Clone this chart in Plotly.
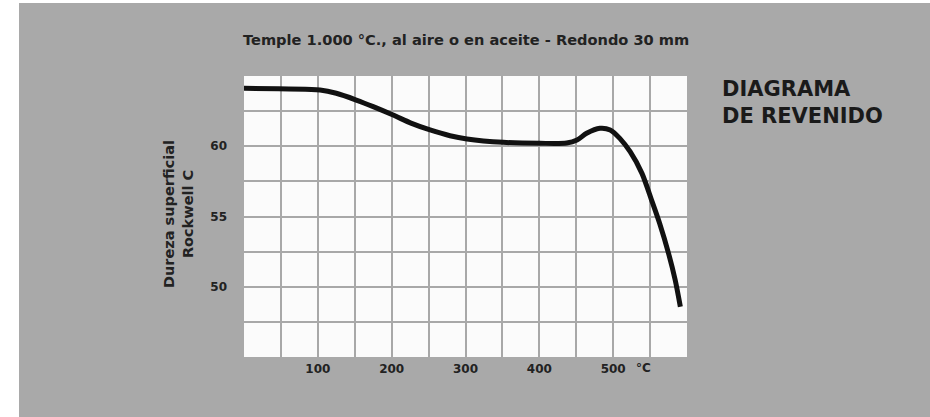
import plotly.graph_objects as go

temp_c = [0, 103, 125, 152, 175, 202, 227, 252, 279, 302, 351, 401, 437, 451, 464, 482, 496, 509, 523, 539, 552, 563, 575, 584, 591]
hardness_hrc = [64.12, 64.0, 63.77, 63.29, 62.82, 62.22, 61.63, 61.16, 60.75, 60.52, 60.28, 60.21, 60.23, 60.44, 60.92, 61.28, 61.16, 60.56, 59.61, 58.07, 56.17, 54.5, 52.38, 50.48, 48.58]

x_grid = [50 * i for i in range(13)]
x_labels = {100: "100", 200: "200", 300: "300", 400: "400", 500: "500"}
unit_label = "°C"
y_grid = [45 + 2.5 * i for i in range(9)]
y_labels = {50: "50", 55: "55", 60: "60"}

title_text = "Temple 1.000 °C., al aire o en aceite - Redondo 30 mm"
side_text = "DIAGRAMA<br>DE REVENIDO"
y_title = "Dureza superficial<br>Rockwell C"

W, H = 930, 417
L, R, T, B = 244, 243, 76, 60
PW, PH = W - L - R, H - T - B


def px(xp):
    return (xp - L) / PW


def py(yp):
    return (H - B - yp) / PH


fig = go.Figure()
fig.add_trace(go.Scatter(
    x=temp_c, y=hardness_hrc, mode="lines",
    line=dict(color="#111111", width=5, shape="spline", smoothing=0.8),
    hoverinfo="skip", showlegend=False,
))

font_family = "DejaVu Sans, Verdana, sans-serif"
bold = "<b>{}</b>"

fig.update_layout(
    width=W, height=H,
    margin=dict(l=L, r=R, t=T, b=B),
    paper_bgcolor="#a9a9a9",
    plot_bgcolor="#fbfbfb",
    font=dict(family=font_family, color="#222222", size=13),
    shapes=[
        dict(type="rect", xref="paper", yref="paper",
             x0=px(-5), x1=px(19), y0=py(H + 5), y1=py(-5),
             fillcolor="#ffffff", line=dict(width=0), layer="below"),
        dict(type="rect", xref="paper", yref="paper",
             x0=px(-5), x1=px(W + 5), y0=py(3), y1=py(-5),
             fillcolor="#ffffff", line=dict(width=0), layer="below"),
    ],
    xaxis=dict(range=[0, 600], tickvals=x_grid,
               ticktext=[bold.format(x_labels[v]) if v in x_labels else "" for v in x_grid],
               showgrid=True, gridcolor="#a8a8a8", gridwidth=2,
               zeroline=False, showline=False, ticks="",
               ticklabelstandoff=3,
               tickfont=dict(size=12, color="#222222")),
    yaxis=dict(range=[45, 65], tickvals=y_grid,
               ticktext=[bold.format(y_labels[v]) if v in y_labels else "" for v in y_grid],
               showgrid=True, gridcolor="#a8a8a8", gridwidth=2,
               zeroline=False, showline=False, ticks="",
               ticklabelstandoff=16,
               tickfont=dict(size=12, color="#222222")),
    annotations=[
        dict(text=bold.format(title_text), xref="paper", yref="paper",
             x=px(466), y=py(39), xanchor="center", yanchor="middle",
             showarrow=False, font=dict(size=14.6, color="#222222")),
        dict(text=bold.format(side_text), xref="paper", yref="paper",
             x=px(720), y=py(102), xanchor="left", yanchor="middle",
             showarrow=False, align="left",
             font=dict(size=21, color="#1a1a1a")),
        dict(text=bold.format(y_title), xref="paper", yref="paper",
             x=px(178), y=py(214), xanchor="center", yanchor="middle",
             showarrow=False, textangle=-90, align="center",
             font=dict(size=14.5, color="#222222")),
        dict(text=bold.format(unit_label), xref="paper", yref="paper",
             x=px(643), y=py(368), xanchor="center", yanchor="middle",
             showarrow=False, font=dict(size=12, color="#222222")),
    ],
)

fig.write_html("out.html", config={"displayModeBar": False},
               post_script="document.body.style.margin='0px';")
